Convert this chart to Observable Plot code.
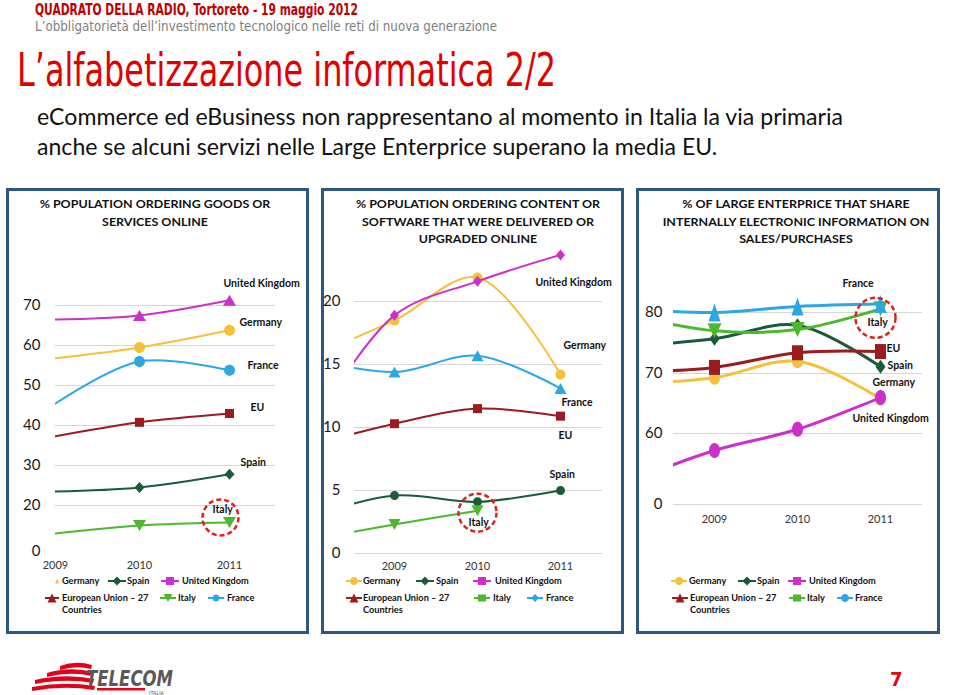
<!DOCTYPE html>
<html><head><meta charset="utf-8">
<script src="https://cdn.jsdelivr.net/npm/d3@7"></script>
<script src="https://cdn.jsdelivr.net/npm/@observablehq/plot@0.6"></script>
<style>
html,body{margin:0;padding:0;background:#fff;}
#slide{position:relative;width:960px;height:695px;overflow:hidden;background:#fff;font-family:Lato,"Open Sans",sans-serif;}
.abs{position:absolute;white-space:nowrap;transform-origin:0 0;}
.narrow{font-family:"Liberation Sans Narrow","DejaVu Sans Condensed","Liberation Sans",sans-serif;}
.box{position:absolute;border:3px solid #2a5783;box-sizing:border-box;}
.ptitle{position:absolute;width:400px;text-align:center;font-weight:bold;font-size:12px;line-height:17.5px;color:#111;transform-origin:50% 0;}
.leg{position:absolute;font-weight:bold;font-size:10px;color:#111;white-space:nowrap;line-height:11.5px;}
.legicon{position:absolute;}
</style></head>
<body><div id="slide">
<div class="abs narrow" id="h1" style="left:35px;top:3px;font-size:15px;line-height:15px;font-weight:bold;color:#c00000">QUADRATO DELLA RADIO, Tortoreto - 19 maggio 2012</div>
<div class="abs narrow" id="h2" style="left:35px;top:19px;font-size:14px;line-height:14px;color:#7f7f7f">L’obbligatorietà dell’investimento tecnologico nelle reti di nuova generazione</div>
<div class="abs narrow" id="title" style="left:17px;top:47px;font-size:46px;line-height:46px;color:#e00000">L’alfabetizzazione informatica 2/2</div>
<div class="abs" id="b1" style="left:37px;top:101px;font-size:23px;line-height:30px;color:#111">eCommerce ed eBusiness non rappresentano al momento in Italia la via primaria</div>
<div class="abs" id="b2" style="left:37px;top:131px;font-size:23px;line-height:30px;color:#111">anche se alcuni servizi nelle Large Enterprice superano la media EU.</div>

<div class="box" style="left:6px;top:188px;width:303px;height:446px"></div>
<div class="box" style="left:321px;top:188px;width:303px;height:446px"></div>
<div class="box" style="left:636px;top:188px;width:304px;height:446px"></div>

<div class="ptitle" style="left:-45px;top:195px"><div>% POPULATION ORDERING GOODS OR</div><div>SERVICES ONLINE</div></div>
<div class="ptitle" style="left:278px;top:195px"><div>% POPULATION ORDERING CONTENT OR</div><div>SOFTWARE THAT WERE DELIVERED OR</div><div>UPGRADED ONLINE</div></div>
<div class="ptitle" style="left:596px;top:195px"><div>% OF LARGE ENTERPRICE THAT SHARE</div><div>INTERNALLY ELECTRONIC INFORMATION ON</div><div>SALES/PURCHASES</div></div>

<svg style="position:absolute;left:0;top:655px" width="200" height="40">
  <path d="M60,11 Q76,5 92,10 L91,14 Q76,10 60,15 Z" fill="#e2001a"/>
  <path d="M47,18 Q70,11 93,17 L92,21 Q70,16 47,22 Z" fill="#e2001a"/>
  <path d="M35,25 Q66,18 94,24 L93,28 Q66,23 35,29 Z" fill="#e2001a"/>
  <path d="M32,32 Q64,26 95,31 L94,35 Q64,30 32,36 Z" fill="#e2001a"/>
  <rect x="97" y="33" width="48" height="2.5" fill="#e2001a"/>
  <text x="86" y="31" font-family="Liberation Sans Narrow, DejaVu Sans Condensed, sans-serif" font-style="italic" font-weight="bold" font-size="21" fill="#595959" textLength="87" lengthAdjust="spacingAndGlyphs">TELECOM</text>
  <text x="149" y="40" font-family="Liberation Sans, sans-serif" font-size="5" fill="#595959">ITALIA</text>
</svg>
<div class="abs narrow" style="left:890px;top:669px;font-size:20px;line-height:20px;font-weight:bold;color:#e30613">7</div>
</div>

<script>
// ---------- DATA ----------
const seriesNames = ["Germany", "Spain", "United Kingdom", "EU", "Italy", "France"];
const xTickYears = [2009, 2010, 2011];

// Panel 1: % population ordering goods or services online
const p1Years   = [2009, 2010, 2011];
const p1Germany = [56.8, 59.5, 63.8];
const p1Spain   = [23.5, 24.5, 27.8];
const p1UK      = [66.5, 67.5, 71.3];
const p1EU      = [37.3, 40.8, 43.0];
const p1Italy   = [7.8, 11.3, 12.6];
const p1France  = [45.5, 56.0, 53.8];
const p1Ticks   = [0, 20, 30, 40, 50, 60, 70];
const p1Grid    = [20, 30, 40, 50, 60, 70];

// Panel 2: % population ordering content/software delivered or upgraded online
const p2Years   = [2008, 2009, 2010, 2011];
const p2Germany = [15.7, 18.5, 21.9, 14.2];
const p2Spain   = [3.0, 4.6, 4.1, 5.0];
const p2UK      = [10.0, 18.9, 21.6, 23.7];
const p2EU      = [8.6, 10.3, 11.5, 10.9];
const p2Italy   = [1.1, 2.3, 3.4, null];
const p2France  = [15.4, 14.4, 15.7, 13.1];
const p2Ticks   = [0, 5, 10, 15, 20];

// Panel 3: % of large enterprises sharing electronic information on sales/purchases
const p3Years   = [2008, 2009, 2010, 2011];
const p3Germany = [68.3, 69.3, 72.0, 65.8];
const p3Spain   = [74.5, 75.7, 77.9, 71.1];
const p3UK      = [20.3, 45.6, 60.7, 66.0];
const p3EU      = [70.2, 71.0, 73.4, 73.6];
const p3Italy   = [79.5, 77.0, 77.2, 80.6];
const p3France  = [80.6, 80.0, 81.0, 81.4];
const p3Ticks   = [0, 60, 70, 80];

// ---------- STYLE ----------
const colors = {"Germany":"#f3c13a","Spain":"#1b5b39","United Kingdom":"#cc2fcc","EU":"#9a1c20","Italy":"#4cb82e","France":"#2da7e3"};

function sym(kind, w, h) {
  return {draw(c) {
    const k = 0.5523;
    if (kind === "circle") {
      c.moveTo(w,0); c.bezierCurveTo(w,k*h,k*w,h,0,h); c.bezierCurveTo(-k*w,h,-w,k*h,-w,0);
      c.bezierCurveTo(-w,-k*h,-k*w,-h,0,-h); c.bezierCurveTo(k*w,-h,w,-k*h,w,0); c.closePath();
    } else if (kind === "square") {
      c.moveTo(-w,-h); c.lineTo(w,-h); c.lineTo(w,h); c.lineTo(-w,h); c.closePath();
    } else if (kind === "diamond") {
      c.moveTo(0,-h); c.lineTo(w,0); c.lineTo(0,h); c.lineTo(-w,0); c.closePath();
    } else if (kind === "up") {
      c.moveTo(0,-h); c.lineTo(w,h); c.lineTo(-w,h); c.closePath();
    } else if (kind === "down") {
      c.moveTo(0,h); c.lineTo(w,-h); c.lineTo(-w,-h); c.closePath();
    }
  }};
}

function rows(years, table) {
  return Object.entries(table).flatMap(([s, vals]) =>
    years.map((yr, i) => ({series: s, year: yr, value: vals[i]})).filter(d => d.value != null));
}

const slide = document.getElementById("slide");

function drawPanel(cfg) {
  const data = rows(cfg.years, cfg.table);
  const marks = [
    Plot.gridY(cfg.grid, {stroke: "#d6d6d6", strokeOpacity: 1}),
    Plot.axisY(cfg.ticks, {tickSize: 0, tickPadding: cfg.yPad, fontSize: 15, fill: "#1a1a1a", label: null, tickFormat: d => String(d)}),
    Plot.axisX(xTickYears, {tickSize: 0, tickPadding: cfg.xPad, fontSize: 11, fill: "#333", label: null, tickFormat: d => String(d)})
  ];
  for (const s of seriesNames) {
    const sd = data.filter(d => d.series === s);
    marks.push(Plot.line(sd, {x: "year", y: "value", stroke: colors[s], strokeWidth: cfg.lw, curve: "catmull-rom", clip: true}));
    const [kind, w, h] = cfg.markers[s];
    marks.push(Plot.dot(sd.filter(d => d.year >= cfg.markFrom), {x: "year", y: "value", symbol: sym(kind, w, h), r: 5, fill: colors[s], stroke: "none", clip: true}));
  }
  for (const s of seriesNames) {
    const sd = data.filter(d => d.series === s);
    const last = sd[sd.length - 1];
    const [txt, dx, dy] = cfg.labels[s];
    marks.push(Plot.text([last], {x: "year", y: "value", text: () => txt, dx, dy, textAnchor: "start", fontWeight: "bold", fontSize: 10.5, fill: "#111"}));
  }
  const it = data.filter(d => d.series === "Italy");
  const [cdx, cdy, cr] = cfg.circle;
  marks.push(Plot.dot([it[it.length - 1]], {x: "year", y: "value", r: cr, dx: cdx, dy: cdy, fill: "none", stroke: "#d9231d", strokeWidth: 2.5, strokeDasharray: "5,3"}));

  const svg = Plot.plot({
    width: cfg.width, height: cfg.height,
    marginLeft: cfg.mL, marginRight: cfg.mR, marginTop: 5, marginBottom: cfg.mB,
    x: {type: "linear", domain: cfg.xDomain, range: cfg.xRange, label: null},
    y: {type: "linear", domain: cfg.yDomain, range: cfg.yRange, label: null},
    style: {background: "transparent", fontFamily: "Lato, 'Open Sans', sans-serif", overflow: "visible"},
    marks
  });
  svg.style.position = "absolute";
  svg.style.left = cfg.left + "px";
  svg.style.top = cfg.top + "px";
  slide.append(svg);
}

drawPanel({
  left: 6, top: 240, width: 303, height: 340, mL: 49, mR: 34, mB: 29, yPad: 15, xPad: 10, lw: 2, markFrom: 2010,
  years: p1Years,
  table: {"Germany": p1Germany, "Spain": p1Spain, "United Kingdom": p1UK, "EU": p1EU, "Italy": p1Italy, "France": p1France},
  ticks: p1Ticks, grid: p1Grid,
  xDomain: [2009, 2010, 2011], xRange: [49, 133, 223],
  yDomain: [0, 20, 70], yRange: [311, 265, 65],
  markers: {"Germany": ["circle",5.5,5.5], "Spain": ["diamond",5,5.5], "United Kingdom": ["up",6.5,5.5], "EU": ["square",4.5,4.5], "Italy": ["down",6.5,5.5], "France": ["circle",5.5,5.5]},
  labels: {"United Kingdom": ["United Kingdom",-6,-17], "Germany": ["Germany",10,-8], "France": ["France",18,-5], "EU": ["EU",21,-6], "Spain": ["Spain",11,-12], "Italy": ["Italy",-17,-13]},
  circle: [-9, -5, 18]
});

drawPanel({
  left: 321, top: 240, width: 303, height: 340, mL: 33, mR: 22, mB: 27, yPad: 14, xPad: 9, lw: 2, markFrom: 2009,
  years: p2Years,
  table: {"Germany": p2Germany, "Spain": p2Spain, "United Kingdom": p2UK, "EU": p2EU, "Italy": p2Italy, "France": p2France},
  ticks: p2Ticks, grid: p2Ticks,
  xDomain: [2009, 2011], xRange: [73, 239],
  yDomain: [0, 20], yRange: [313, 61],
  markers: {"Germany": ["circle",5,5], "Spain": ["circle",4.5,4.5], "United Kingdom": ["diamond",4.5,5.5], "EU": ["square",4.5,4.5], "Italy": ["down",6,5.5], "France": ["up",6,5.5]},
  labels: {"United Kingdom": ["United Kingdom",-25,28], "Germany": ["Germany",3,-29], "France": ["France",1,14], "EU": ["EU",-2,19], "Spain": ["Spain",-11,-16], "Italy": ["Italy",-9,12]},
  circle: [0, 2, 19]
});

drawPanel({
  left: 636, top: 240, width: 304, height: 340, mL: 37, mR: 18, mB: 76, yPad: 11, xPad: 11, lw: 3, markFrom: 2009,
  years: p3Years,
  table: {"Germany": p3Germany, "Spain": p3Spain, "United Kingdom": p3UK, "EU": p3EU, "Italy": p3Italy, "France": p3France},
  ticks: p3Ticks, grid: p3Ticks,
  xDomain: [2009, 2011], xRange: [78, 244],
  yDomain: [0, 60, 70, 80], yRange: [264, 193, 133, 72],
  markers: {"Germany": ["circle",5.5,7], "Spain": ["diamond",5,7], "United Kingdom": ["circle",5.5,7.5], "EU": ["square",5.5,7.5], "Italy": ["down",7,7.5], "France": ["up",6,9]},
  labels: {"France": ["France",-38,-20], "Italy": ["Italy",-13,14], "EU": ["EU",6,-3], "Spain": ["Spain",7,-1], "Germany": ["Germany",-8,-16], "United Kingdom": ["United Kingdom",-28,21]},
  circle: [-5, 9, 20]
});

// ---------- LEGENDS ----------
const legendLabels = {"Germany":"Germany","Spain":"Spain","United Kingdom":"United Kingdom","EU":"European Union – 27<br>Countries","Italy":"Italy","France":"France"};
const legendLayout = [
  {"Germany":[57,62,581,"up",2,2.5,0],"Spain":[117,127,581,"diamond",4.5,4.5,9],"United Kingdom":[170,182,581,"square",4,4,9],"EU":[52,62,598,"up",4.5,4.5,7],"Italy":[168,178,598,"down",4.5,4,8],"France":[216,227,598,"circle",3.5,3.5,8]},
  {"Germany":[354,363,581,"circle",4,4,8],"Spain":[425,436,581,"diamond",4.5,4.5,9],"United Kingdom":[482,495,581,"square",4,4,9],"EU":[354,363,598,"up",4.5,4.5,8],"Italy":[482,493,598,"square",4,3.5,8],"France":[535,546,598,"diamond",4,4,8]},
  {"Germany":[679,689,581,"circle",4,4,8],"Spain":[747,757,581,"diamond",4.5,4.5,9],"United Kingdom":[797,809,581,"square",4,4,9],"EU":[680,690,598,"up",4.5,4.5,8],"Italy":[797,807,598,"square",4,3.5,8],"France":[845,855,598,"circle",4,4,8]}
];
for (const lay of legendLayout) {
  for (const s of seriesNames) {
    const [ix, tx, y, kind, w, h, half] = lay[s];
    const ns = "http://www.w3.org/2000/svg";
    const svg = document.createElementNS(ns, "svg");
    svg.setAttribute("width", 24); svg.setAttribute("height", 14);
    svg.setAttribute("class", "legicon");
    svg.style.left = (ix - 12) + "px"; svg.style.top = (y - 7) + "px";
    if (half > 0) {
      const ln = document.createElementNS(ns, "line");
      ln.setAttribute("x1", 12 - half); ln.setAttribute("x2", 12 + half); ln.setAttribute("y1", 7); ln.setAttribute("y2", 7);
      ln.setAttribute("stroke", colors[s]); ln.setAttribute("stroke-width", 2);
      svg.append(ln);
    }
    const p = document.createElementNS(ns, "path");
    p.setAttribute("d", d3.symbol(sym(kind, w, h))());
    p.setAttribute("transform", "translate(12,7)");
    p.setAttribute("fill", colors[s]);
    svg.append(p);
    slide.append(svg);
    const t = document.createElement("div");
    t.className = "leg";
    t.style.left = tx + "px"; t.style.top = (y - 6) + "px";
    t.innerHTML = legendLabels[s];
    slide.append(t);
  }
}

// ---------- text fitting ----------
function fit(id, target) {
  const el = document.getElementById(id);
  el.style.transform = "";
  const w = el.getBoundingClientRect().width;
  const k = target / w;
  el.style.transform = `scaleX(${k})`;
  return k;
}
function layoutText() {
  fit("h1", 323); fit("h2", 462); fit("title", 539);
  const k = fit("b1", 806);
  document.getElementById("b2").style.transform = `scaleX(${k})`;
  const pts = document.querySelectorAll(".ptitle");
  const probe = pts[1].children[1];
  let span = probe.querySelector("span");
  if (!span) { span = document.createElement("span"); span.textContent = probe.textContent; probe.textContent = ""; probe.append(span); }
  pts.forEach(p => p.style.transform = "");
  const kt = 232 / span.getBoundingClientRect().width;
  pts.forEach(p => p.style.transform = `scaleX(${kt})`);
  document.querySelectorAll(".leg").forEach(l => { l.style.transformOrigin = "0 0"; l.style.transform = "scaleX(0.92)"; });
}
layoutText();
if (document.fonts && document.fonts.ready) document.fonts.ready.then(layoutText);
</script>
</body></html>
